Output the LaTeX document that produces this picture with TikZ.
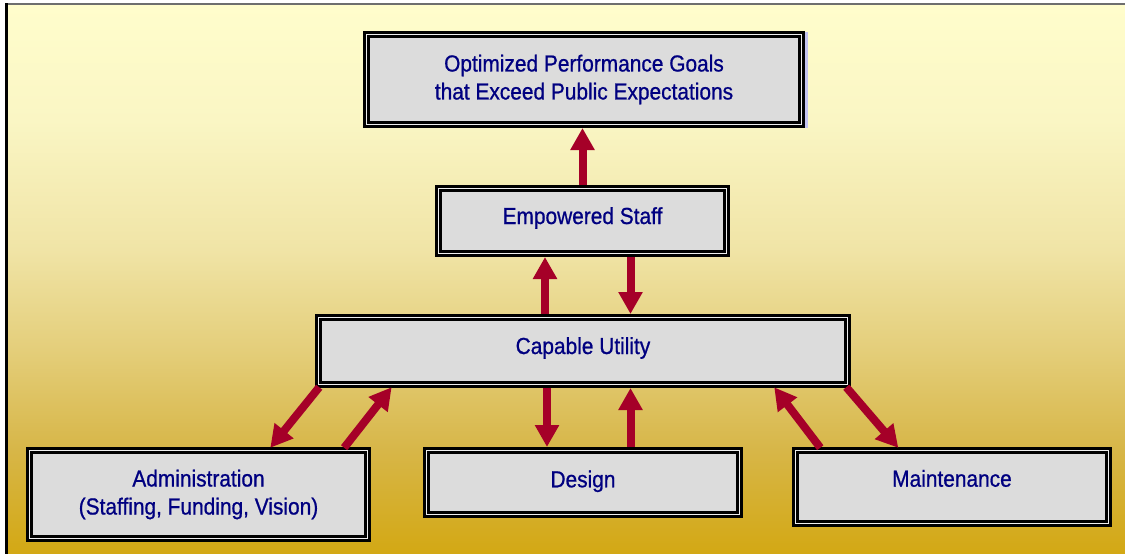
\documentclass[tikz,border=0pt]{standalone}
\usepackage{fontspec}
\setmainfont{Liberation Sans}
\newfontfamily\boxfont[FakeStretch=0.9, FakeBold=0.8]{Liberation Sans}
\usetikzlibrary{arrows.meta,calc}

\definecolor{boxfill}{RGB}{220,220,220}
\definecolor{boxgap}{RGB}{238,238,238}
\definecolor{labelblue}{RGB}{0,0,128}
\definecolor{arrowred}{RGB}{165,0,40}
\definecolor{frametop}{RGB}{110,110,110}
\definecolor{lavender}{RGB}{196,196,240}

% background colours, bottom to top
\definecolor{bg0}{RGB}{211,168,20}
\definecolor{bg1}{RGB}{215,182,72}
\definecolor{bg2}{RGB}{228,206,122}
\definecolor{bg3}{RGB}{240,228,166}
\definecolor{bg4}{RGB}{250,246,196}
\definecolor{bg5}{RGB}{255,253,204}
\pgfdeclareverticalshading{panel}{100bp}{%
  color(0bp)=(bg0); color(25bp)=(bg0); color(34.5bp)=(bg1);
  color(43.6bp)=(bg2); color(52.7bp)=(bg3); color(64.5bp)=(bg4);
  color(75bp)=(bg5); color(100bp)=(bg5)}

\begin{document}
\begin{tikzpicture}[x=1pt,y=-1pt,
  box/.style={draw=black, line width=2.6pt, double=boxgap, double distance=1.8pt,
    fill=boxfill, text=labelblue, font=\boxfont\fontsize{23.2}{28}\selectfont,
    align=center, inner sep=0pt, outer sep=0pt},
  oneline/.style={text height=16.6pt, text depth=#1},
  arr/.style={draw=arrowred, line width=8pt,
    -{Triangle[width=23pt,length=22pt]},
    shorten >=3.5pt, shorten <=3.5pt}]

\useasboundingbox (0,0) rectangle (1125,554);
\fill[white] (0,0) rectangle (1125,554);
\shade[shading=panel] (8,5) rectangle (1125,554);
\draw[frametop, line width=2pt] (6,4) -- (1125,4);
\draw[black, line width=3pt] (6.5,3) -- (6.5,554);

% faint strip beside the top box
\fill[lavender] (801,32) rectangle (808,128);

% boxes
\node[box, minimum width=435pt, minimum height=90pt] (goals) at (584,79.5)
  {Optimized Performance Goals\\that Exceed Public Expectations};
\node[box, oneline=10.6pt, minimum width=288pt, minimum height=65pt] (staff) at (582.5,221)
  {Empowered Staff};
\node[box, oneline=10.6pt, minimum width=529pt, minimum height=67pt] (utility) at (583,351)
  {Capable Utility};
\node[box, minimum width=338pt, minimum height=88pt] (admin) at (198.5,494.5)
  {Administration\\(Staffing, Funding, Vision)};
\node[box, oneline=7pt, minimum width=313pt, minimum height=64pt] (design) at (583,482.5)
  {Design};
\node[box, oneline=17.2pt, minimum width=313pt, minimum height=73pt] (maint) at (952,487)
  {Maintenance};

% vertical connectors
\draw[arr] (staff.north) -- (staff.north |- goals.south);
\path ($(utility.north)+(-38,0)$) coordinate (upS);
\draw[arr] (upS) -- (upS |- staff.south);
\path ($(staff.south)+(48,0)$) coordinate (downS);
\draw[arr] (downS) -- (downS |- utility.north);
\path ($(utility.south)+(-36,0)$) coordinate (downD);
\draw[arr] (downD) -- (downD |- design.north);
\path ($(design.north)+(47.5,0)$) coordinate (upD);
\draw[arr] (upD) -- (upD |- utility.south);

% diagonal connectors
\draw[arr] ($(utility.south west)+(2.9,0)$) -- ($(admin.north west)+(238.6,0)$);
\draw[arr] ($(admin.north east)+(-25.5,0)$) -- ($(utility.south west)+(75.3,0)$);
\draw[arr] ($(maint.north west)+(26.9,0)$) -- ($(utility.south east)+(-75.4,0)$);
\draw[arr] ($(utility.south east)+(-3.5,0)$) -- ($(maint.north west)+(105.1,0)$);
\end{tikzpicture}
\end{document}
